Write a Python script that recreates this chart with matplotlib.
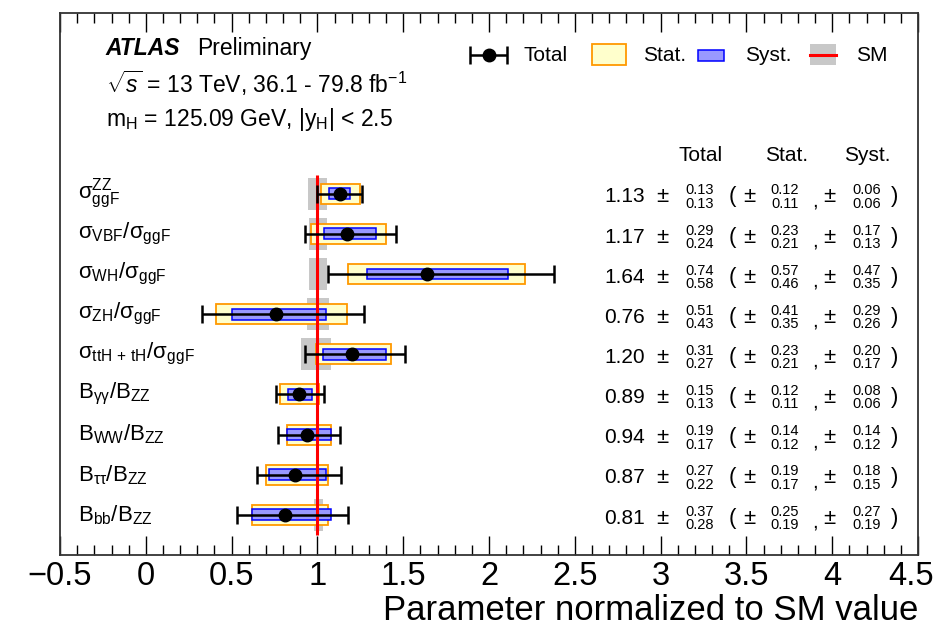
import matplotlib
matplotlib.use("Agg")
import matplotlib.pyplot as plt
import matplotlib.transforms as mtrans
import numpy as np

plt.rcParams['font.family'] = ['Liberation Sans', 'DejaVu Sans']
plt.rcParams['mathtext.fontset'] = 'custom'
plt.rcParams['mathtext.rm'] = 'Liberation Sans'
plt.rcParams['mathtext.it'] = 'Liberation Sans:italic'
plt.rcParams['mathtext.bf'] = 'Liberation Sans:bold'
plt.rcParams['mathtext.default'] = 'regular'

# parameters, top to bottom
labels = [r'$\sigma^{ZZ}_{ggF}$', r'$\sigma_{VBF}/\sigma_{ggF}$', r'$\sigma_{WH}/\sigma_{ggF}$',
          r'$\sigma_{ZH}/\sigma_{ggF}$', r'$\sigma_{ttH\,+\,tH}/\sigma_{ggF}$',
          r'$B_{\gamma\gamma}/B_{ZZ}$', r'$B_{WW}/B_{ZZ}$', r'$B_{\tau\tau}/B_{ZZ}$', r'$B_{bb}/B_{ZZ}$']
central = [1.13, 1.17, 1.64, 0.76, 1.20, 0.89, 0.94, 0.87, 0.81]
tot_up = [0.13, 0.29, 0.74, 0.51, 0.31, 0.15, 0.19, 0.27, 0.37]
tot_dn = [0.13, 0.24, 0.58, 0.43, 0.27, 0.13, 0.17, 0.22, 0.28]
stat_up = [0.12, 0.23, 0.57, 0.41, 0.23, 0.12, 0.14, 0.19, 0.25]
stat_dn = [0.11, 0.21, 0.46, 0.35, 0.21, 0.11, 0.12, 0.17, 0.19]
syst_up = [0.06, 0.17, 0.47, 0.29, 0.20, 0.08, 0.14, 0.18, 0.27]
syst_dn = [0.06, 0.13, 0.35, 0.26, 0.17, 0.06, 0.12, 0.15, 0.19]
# SM theory uncertainty (grey bands)
sm_up = [0.053, 0.055, 0.058, 0.067, 0.08, 0.01, 0.01, 0.01, 0.03]
sm_dn = [0.053, 0.05, 0.052, 0.058, 0.098, 0.01, 0.01, 0.01, 0.02]

n = len(central)
c = np.array(central)
ypos = np.arange(n, 0, -1)  # 9 ... 1

fig = plt.figure(figsize=(9.38, 6.4), dpi=100)
ax = fig.add_axes([0.064, 0.1328, 0.9147, 0.8469])
ax.set_xlim(-0.5, 4.5)
ax.set_ylim(0, 13.5)

yellow = '#ffffcc'
orange = '#ff9900'
bluef = '#9999ff'
blue = '#0000ff'
grey = '#c8c8c8'

# SM bands
ax.barh(ypos, np.array(sm_up) + np.array(sm_dn), left=1 - np.array(sm_dn), height=0.8,
        color=grey, lw=0, zorder=1)
# stat boxes
ax.barh(ypos, np.array(stat_up) + np.array(stat_dn), left=c - np.array(stat_dn), height=0.5,
        color=yellow, edgecolor=orange, lw=1.3, zorder=2)
# syst boxes
ax.barh(ypos, np.array(syst_up) + np.array(syst_dn), left=c - np.array(syst_dn), height=0.27,
        color=bluef, edgecolor=blue, lw=1.1, zorder=3)
# SM line
ax.vlines(1, 0.5, 9.47, color='red', lw=2.2, zorder=4)
# total
ax.errorbar(c, ypos, xerr=[tot_dn, tot_up], fmt='o', color='black', ms=9,
            elinewidth=1.8, capsize=6.8, capthick=1.8, zorder=5)

# row labels and numbers
for i in range(n):
    y = ypos[i]
    ax.text(-0.395, y, labels[i], fontsize=16, va='center', ha='left')
    ax.text(2.91, y - 0.08, '%.2f' % central[i], fontsize=15, va='center', ha='right')
    ax.text(3.014, y - 0.08, r'$\pm$', fontsize=16, va='center', ha='center')
    ax.text(3.23, y + 0.08, '%.2f' % tot_up[i], fontsize=10.5, va='center', ha='center')
    ax.text(3.23, y - 0.25, '%.2f' % tot_dn[i], fontsize=10.5, va='center', ha='center')
    ax.text(3.416, y - 0.08, '(', fontsize=16, va='center', ha='center')
    ax.text(3.521, y - 0.08, r'$\pm$', fontsize=16, va='center', ha='center')
    ax.text(3.725, y + 0.08, '%.2f' % stat_up[i], fontsize=10.5, va='center', ha='center')
    ax.text(3.725, y - 0.25, '%.2f' % stat_dn[i], fontsize=10.5, va='center', ha='center')
    ax.text(3.90, y - 0.18, ',', fontsize=15, va='center', ha='center')
    ax.text(3.987, y - 0.08, r'$\pm$', fontsize=16, va='center', ha='center')
    ax.text(4.203, y + 0.08, '%.2f' % syst_up[i], fontsize=10.5, va='center', ha='center')
    ax.text(4.203, y - 0.25, '%.2f' % syst_dn[i], fontsize=10.5, va='center', ha='center')
    ax.text(4.366, y - 0.08, ')', fontsize=16, va='center', ha='center')

ax.text(3.23, 9.95, 'Total', fontsize=15, va='center', ha='center')
ax.text(3.737, 9.95, 'Stat.', fontsize=15, va='center', ha='center')
ax.text(4.203, 9.95, 'Syst.', fontsize=15, va='center', ha='center')

# ATLAS label
ax.text(-0.233, 12.62, 'ATLAS', fontsize=16.5, fontweight='bold', style='italic', va='center')
ax.text(0.3, 12.62, 'Preliminary', fontsize=16.5, va='center')
ax.text(-0.233, 11.76, r'$\sqrt{\mathit{s}}$ = 13 TeV, 36.1 - 79.8 fb$^{-1}$', fontsize=16.5, va='center')
ax.text(-0.233, 10.85, r'm$_{H}$ = 125.09 GeV, |y$_{H}$| < 2.5', fontsize=16.5, va='center')

# legend
ax.errorbar([2.0], [12.45], xerr=[[0.11], [0.105]], fmt='o', color='black', ms=9,
            elinewidth=1.8, capsize=6.8, capthick=1.8)
ax.text(2.2, 12.45, 'Total', fontsize=15, va='center')
ax.add_patch(plt.Rectangle((2.60, 12.2), 0.2, 0.53, facecolor=yellow, edgecolor=orange, lw=1.3))
ax.text(2.9, 12.45, 'Stat.', fontsize=15, va='center')
ax.add_patch(plt.Rectangle((3.22, 12.31), 0.15, 0.27, facecolor=bluef, edgecolor=blue, lw=1.1))
ax.text(3.49, 12.45, 'Syst.', fontsize=15, va='center')
ax.add_patch(plt.Rectangle((3.87, 12.2), 0.15, 0.53, facecolor=grey, lw=0))
ax.plot([3.87, 4.02], [12.45, 12.45], color='red', lw=2.2)
ax.text(4.14, 12.45, 'SM', fontsize=15, va='center')

# axes style
ax.set_xticks(np.arange(-0.5, 4.51, 0.5))
ax.set_xticks(np.arange(-0.5, 4.51, 0.1), minor=True)
ax.set_xticklabels(['\u22120.5', '0', '0.5', '1', '1.5', '2', '2.5', '3', '3.5', '4', '4.5'])
ax.set_yticks([])
ax.tick_params(axis='x', which='both', direction='in', top=True, labelsize=23.5, pad=4)
ax.tick_params(axis='x', which='major', length=14, width=1)
ax.tick_params(axis='x', which='minor', length=7.5, width=1)
for s in ax.spines.values():
    s.set_linewidth(1.3)
    s.set_color('#333333')
ax.set_xlabel('Parameter normalized to SM value', fontsize=25, loc='right', labelpad=2)

# nudge last tick label so it stays inside the figure
last = ax.xaxis.get_major_ticks()[-1].label1
last.set_transform(last.get_transform() + mtrans.ScaledTranslation(-5 / 72, 0, fig.dpi_scale_trans))

fig.savefig('out.png', dpi=100)
